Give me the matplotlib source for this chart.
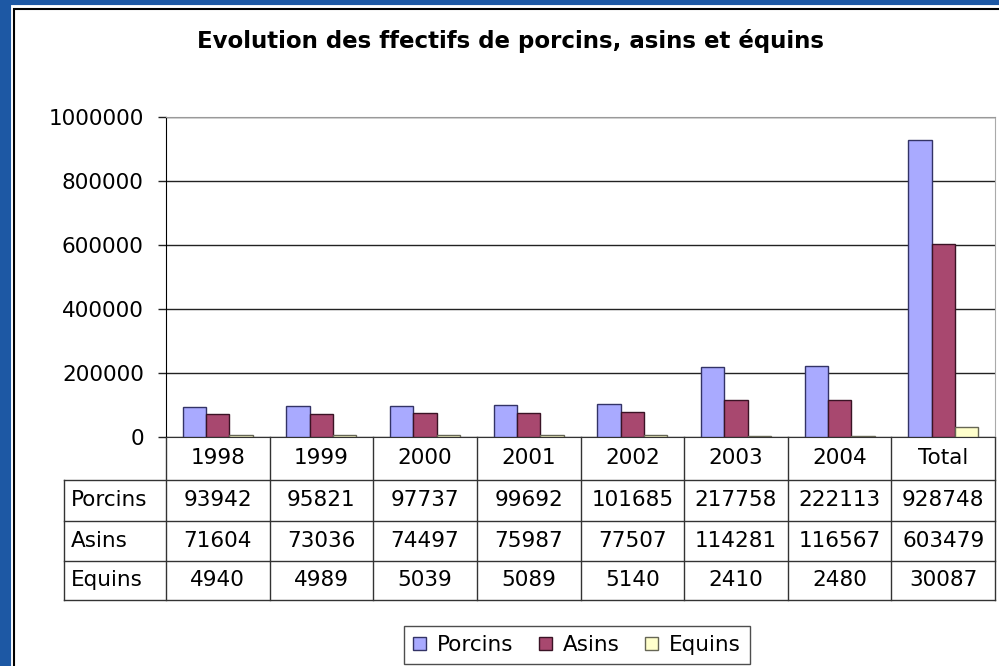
import numpy as np
import matplotlib
matplotlib.use("Agg")
from matplotlib import pyplot as plt
from matplotlib.patches import Rectangle, Patch
from matplotlib.transforms import blended_transform_factory

categories = ["1998", "1999", "2000", "2001", "2002", "2003", "2004", "Total"]
series_names = ["Porcins", "Asins", "Equins"]
porcins = [93942, 95821, 97737, 99692, 101685, 217758, 222113, 928748]
asins = [71604, 73036, 74497, 75987, 77507, 114281, 116567, 603479]
equins = [4940, 4989, 5039, 5089, 5140, 2410, 2480, 30087]
y_ticks = [0, 200000, 400000, 600000, 800000, 1000000]

colors = ["#a9aaff", "#a8486f", "#ffffcc"]
edges = ["#333366", "#3a1325", "#666655"]

plt.rcParams['font.family'] = ['DejaVu Sans']
FS = 15.5

W, H = 999, 666
fig = plt.figure(figsize=(W / 100, H / 100), dpi=100, facecolor="#1d58a4")

# white panel with black border
fig.patches.append(Rectangle((13 / W, -0.1), 1.2, 1 - 7 / H + 0.1, transform=fig.transFigure,
                             facecolor="none", edgecolor="white", lw=3.5, zorder=-10))
fig.patches.append(Rectangle((14 / W, -0.1), 1.2, 1 - 9 / H + 0.1, transform=fig.transFigure,
                             facecolor="white", edgecolor="black", lw=1.5, zorder=-9))

left, right, top, bottom = 166, 995, 117, 437
ax = fig.add_axes([left / W, 1 - bottom / H, (right - left) / W, (bottom - top) / H])
ax.set_facecolor("none")
ax.set_zorder(5)

x = np.arange(len(categories))
w = 0.225
data = [porcins, asins, equins]
for k, (vals, c, e) in enumerate(zip(data, colors, edges)):
    ax.bar(x + (k - 1) * w, vals, width=w, color=c, edgecolor=e, lw=1, zorder=3)

ax.set_xlim(-0.5, len(categories) - 0.5)
ax.set_ylim(0, 1000000)
ax.set_yticks(y_ticks)
ax.set_yticklabels([str(v) for v in y_ticks], fontsize=FS)
ax.tick_params(axis="y", length=6, width=1, pad=10, color="#222222")
ax.set_xticks([])
ax.grid(axis="y", color="#222222", lw=1, zorder=1)
ax.spines["left"].set_color("black")
ax.spines["bottom"].set_color("#333333")
ax.spines["top"].set_color("#999999")
ax.spines["right"].set_color("#aaaaaa")

# data table below the axis
tr = blended_transform_factory(ax.transData, ax.transAxes)
ph = bottom - top
row_px = [437, 480, 521, 561, 600]
row_y = [-(r - bottom) / ph for r in row_px]
lab_left = -0.5 - (166 - 64) / ((right - left) / len(categories))
line_kw = dict(transform=tr, clip_on=False, color="#333333", lw=1)

for yy in row_y[1:]:
    ax.plot([lab_left, len(categories) - 0.5], [yy, yy], **line_kw)
for i in range(len(categories) + 1):
    ax.plot([i - 0.5, i - 0.5], [row_y[0], row_y[-1]], **line_kw)
ax.plot([lab_left, lab_left], [row_y[1], row_y[-1]], **line_kw)

for i, cat in enumerate(categories):
    ax.text(i, (row_y[0] + row_y[1]) / 2, cat, transform=tr, ha="center", va="center",
            fontsize=FS, clip_on=False)
for r, (name, vals) in enumerate(zip(series_names, data)):
    yc = (row_y[r + 1] + row_y[r + 2]) / 2
    ax.text(lab_left + 0.07, yc, name, transform=tr, ha="left", va="center",
            fontsize=FS, clip_on=False)
    for i, v in enumerate(vals):
        ax.text(i, yc, str(v), transform=tr, ha="center", va="center",
                fontsize=FS, clip_on=False)

fig.text(510 / W, 1 - 41 / H, "Evolution des ffectifs de porcins, asins et équins",
         ha="center", va="center", fontsize=16.5, fontweight="bold")

handles = [Patch(facecolor=c, edgecolor=e, lw=1) for c, e in zip(colors, edges)]
leg = fig.legend(handles, series_names, loc="center", bbox_to_anchor=(577 / W, 1 - 645 / H),
                 ncol=3, fontsize=FS, frameon=True, fancybox=False, edgecolor="#222222",
                 handlelength=0.6, handleheight=0.6, handletextpad=0.5, columnspacing=1.2,
                 borderpad=0.4, borderaxespad=0)
leg.get_frame().set_linewidth(1)

fig.savefig("out.png", dpi=100, facecolor=fig.get_facecolor())
